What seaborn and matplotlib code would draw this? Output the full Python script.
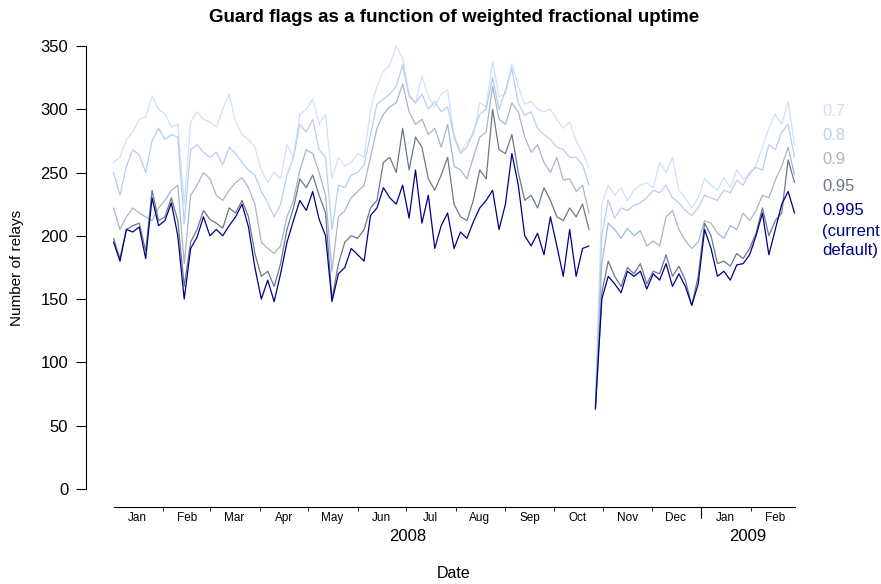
import numpy as np
import pandas as pd
import seaborn as sns
import matplotlib.pyplot as plt
import matplotlib.dates as mdates
from matplotlib.ticker import FixedLocator, NullFormatter, FixedFormatter

# one sample every 4 days, 2008-01-01 .. 2009-02-28; no data 24-26 Oct 2008
dates = pd.date_range('2008-01-01', periods=107, freq='4D')
last_before_gap = pd.Timestamp('2008-10-23')

wfu_07 = [258, 262, 276, 282, 292, 294, 310, 300, 296, 286, 288, 225, 290, 298, 292, 290, 286, 300,
          312, 290, 280, 276, 270, 252, 242, 250, 245, 272, 262, 296, 300, 308, 288, 296, 245, 262,
          255, 258, 265, 262, 300, 318, 330, 335, 350, 340, 312, 305, 326, 310, 302, 312, 315, 280,
          266, 274, 280, 305, 302, 338, 310, 312, 336, 318, 304, 306, 300, 298, 300, 292, 285, 290,
          275, 266, 254, 70, 225, 240, 232, 238, 228, 236, 240, 242, 238, 258, 250, 262, 236, 230,
          222, 230, 245, 240, 236, 246, 238, 252, 245, 248, 256, 270, 285, 296, 288, 306, 272]
wfu_08 = [250, 232, 255, 268, 264, 250, 275, 285, 276, 280, 278, 210, 268, 272, 266, 262, 266, 256,
          270, 265, 258, 252, 248, 235, 226, 215, 225, 248, 262, 288, 282, 292, 268, 262, 205, 240,
          238, 248, 250, 256, 280, 304, 308, 312, 318, 335, 310, 305, 312, 300, 306, 298, 302, 278,
          265, 270, 282, 296, 300, 325, 300, 315, 332, 305, 295, 298, 285, 280, 276, 270, 268, 262,
          262, 256, 240, 68, 200, 228, 214, 222, 220, 224, 226, 230, 236, 234, 240, 230, 226, 220,
          216, 222, 232, 230, 228, 236, 234, 244, 240, 250, 254, 252, 272, 268, 282, 288, 262]
wfu_09 = [222, 205, 215, 222, 218, 215, 212, 222, 228, 236, 240, 178, 232, 240, 250, 245, 232, 228,
          236, 242, 246, 238, 225, 195, 190, 186, 192, 215, 228, 252, 268, 265, 250, 232, 172, 215,
          220, 230, 235, 240, 262, 285, 296, 302, 305, 320, 298, 288, 292, 280, 285, 270, 288, 255,
          252, 245, 262, 278, 282, 318, 292, 288, 305, 298, 278, 266, 272, 258, 250, 262, 244, 245,
          235, 240, 218, 66, 178, 210, 205, 198, 206, 200, 204, 192, 196, 192, 215, 220, 205, 196,
          190, 195, 212, 210, 202, 198, 208, 205, 218, 212, 220, 232, 230, 244, 255, 270, 248]
wfu_095 = [198, 182, 205, 208, 210, 188, 236, 212, 215, 230, 212, 160, 195, 205, 220, 213, 210, 206,
           222, 218, 228, 215, 186, 168, 172, 160, 178, 205, 222, 245, 238, 248, 232, 218, 150, 178,
           195, 200, 198, 205, 222, 228, 258, 262, 250, 285, 252, 278, 270, 245, 236, 248, 262, 225,
           215, 212, 228, 252, 245, 300, 268, 265, 280, 250, 228, 232, 222, 238, 228, 215, 212, 222,
           215, 225, 205, 64, 155, 180, 168, 160, 175, 170, 178, 162, 172, 170, 185, 168, 176, 165,
           145, 168, 210, 200, 178, 180, 176, 186, 182, 190, 202, 222, 200, 212, 218, 260, 242]
wfu_0995 = [195, 180, 205, 203, 207, 182, 230, 208, 212, 226, 200, 150, 190, 199, 215, 200, 205, 200,
            208, 215, 225, 207, 175, 150, 165, 148, 170, 195, 212, 228, 220, 235, 213, 200, 148, 170,
            175, 190, 185, 180, 216, 222, 238, 230, 225, 240, 214, 252, 210, 232, 190, 208, 218, 190,
            203, 198, 211, 222, 228, 236, 205, 225, 265, 240, 200, 192, 202, 185, 215, 192, 168, 205,
            168, 190, 192, 63, 150, 168, 162, 155, 172, 168, 172, 158, 170, 165, 178, 160, 170, 160,
            145, 162, 205, 190, 168, 172, 165, 177, 178, 185, 200, 218, 185, 205, 225, 235, 218]

series_labels = ['0.7', '0.8', '0.9', '0.95', '0.995']
series_values = [wfu_07, wfu_08, wfu_09, wfu_095, wfu_0995]
series_colors = ['#cfe0fa', '#b7ceee', '#a6b7cc', '#6b7989', '#00008b']
legend_text = ['0.7', '0.8', '0.9', '0.95', '0.995', '(current', 'default)']

month_labels = ['Jan', 'Feb', 'Mar', 'Apr', 'May', 'Jun', 'Jul', 'Aug', 'Sep', 'Oct', 'Nov', 'Dec',
                'Jan', 'Feb']
year_labels = ['2008', '2009']
y_ticks = [0, 50, 100, 150, 200, 250, 300, 350]

frames = []
for lab, vals in zip(series_labels, series_values):
    frames.append(pd.DataFrame({'date': dates, 'relays': vals, 'wfu': lab,
                                'segment': np.where(dates <= last_before_gap, 0, 1)}))
df = pd.concat(frames, ignore_index=True)

sns.set_style('ticks')
plt.rcParams['font.family'] = ['Liberation Sans', 'DejaVu Sans']
plt.rcParams['text.color'] = 'black'
plt.rcParams['axes.edgecolor'] = 'black'
plt.rcParams['xtick.color'] = 'black'
plt.rcParams['ytick.color'] = 'black'

W, H = 881, 584
fig = plt.figure(figsize=(W / 100, H / 100), dpi=100)
ax = fig.add_axes([86.3 / W, 1 - 506.7 / H, 735.5 / W, 484.7 / H])

sns.lineplot(data=df, x='date', y='relays', hue='wfu', units='segment', estimator=None,
             hue_order=series_labels, palette=dict(zip(series_labels, series_colors)),
             linewidth=0.9, legend=False, ax=ax)

first, last = dates[0], dates[-1]
pad = (last - first) * 0.04
ax.set_xlim(first - pad, last + pad)
ax.set_ylim(-14.0, 368.9)

for s in ['top', 'right']:
    ax.spines[s].set_visible(False)
for s in ['left', 'bottom']:
    ax.spines[s].set_linewidth(0.8)
ax.spines['left'].set_bounds(0, 350)
ax.spines['bottom'].set_bounds(mdates.date2num(first), mdates.date2num(last))

ax.set_yticks(y_ticks)
ax.tick_params(axis='y', length=7, width=0.8, pad=6, labelsize=12)

# month boundaries as ticks, month names centred in between
month_starts = pd.date_range('2008-01-01', periods=len(month_labels), freq='MS')
ax.xaxis.set_major_locator(FixedLocator(mdates.date2num(month_starts[1:])))
ax.xaxis.set_major_formatter(NullFormatter())
ax.xaxis.set_minor_locator(FixedLocator(mdates.date2num(month_starts + pd.Timedelta(days=15))))
ax.xaxis.set_minor_formatter(FixedFormatter(month_labels))
ax.tick_params(axis='x', which='major', length=3, width=0.6)
ax.tick_params(axis='x', which='minor', length=0, pad=4, labelsize=8.5)

xt = ax.get_xaxis_transform()
year_start = pd.Timestamp('2009-01-01')
ax.plot([year_start, year_start], [0, -11 / 484.7], transform=xt, clip_on=False,
        color='black', lw=0.8)
ax.text(first + (year_start - first) / 2, -0.0605, year_labels[0], transform=xt,
        ha='center', va='center', fontsize=12)
ax.text(year_start + (last - year_start) / 2, -0.0605, year_labels[1], transform=xt,
        ha='center', va='center', fontsize=12)

ax.set_xlabel('')
ax.set_ylabel('')
fig.text(454 / W, 1 - 574 / H, 'Date', ha='center', va='center', fontsize=11.5)
fig.text(17 / W, 1 - 268 / H, 'Number of relays', rotation=90, ha='center', va='center',
         fontsize=11)
fig.text(454 / W, 1 - 17 / H, 'Guard flags as a function of weighted fractional uptime',
         ha='center', va='center', fontsize=13.5, fontweight='bold')

# labels at the right instead of a legend box
label_colors = series_colors + [series_colors[-1]] * 2
label_y = [111, 135, 160, 186, 211, 231, 250]
for txt, col, py in zip(legend_text, label_colors, label_y):
    fig.text(822 / W, 1 - py / H, txt, color=col, ha='left', va='center', fontsize=12)

fig.savefig('out.png', dpi=100)
